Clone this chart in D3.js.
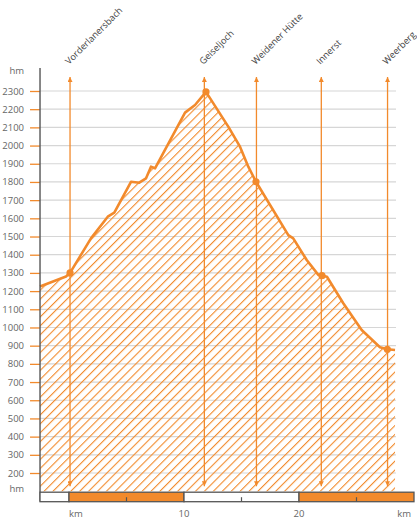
<!DOCTYPE html>
<html>
<head>
  <meta charset="UTF-8">
  <title>Höhenprofil</title>
  <style>
    body { margin: 0; background: #fff; }
    text { font-family: "Open Sans", sans-serif; }
  </style>
</head>
<body>
<svg id="chart"></svg>
<script src="https://d3js.org/d3.v7.min.js"></script>
<script>

let width = 417, height = 520;

// profile (km, metres)
var profileKm = [-2.52, -0.26, 0.09, 1.91, 3.37, 3.94, 5.39, 6.11, 6.70, 7.13, 7.48, 10.09, 10.96, 11.91,
                 13.85, 14.87, 15.59, 16.26, 19.07, 19.5, 20.67, 21.68, 22.0, 22.43, 23.85, 25.45, 27.04, 27.68, 28.35]
var profileElev = [1225, 1280, 1300, 1490, 1609, 1631, 1801, 1796, 1820, 1884, 1875, 2181, 2223, 2295,
                   2104, 1994, 1884, 1801, 1508, 1490, 1371, 1289, 1285, 1279, 1133, 986, 891, 880, 876]

// waypoints
var wpNames = ["Vorderlanersbach", "Geiseljoch", "Weidener Hütte", "Innerst", "Weerberg"]
var wpKm = [0.09, 11.77, 16.3, 21.94, 27.7]
var dotKm = [0.09, 11.91, 16.26, 22.0, 27.68]
var dotElev = [1300, 2295, 1801, 1285, 880]

// axes
var elevTicks = d3.range(200, 2400, 100)
var kmTicks = [0, 10, 20, 30]
var kmLabels = ["km", "10", "20", "km"]
var kmSegments = [[-2.52, 0], [0, 10], [10, 20], [20, 30]]
var kmMinor = [5, 15, 25]

var orange = "#f28a2c", grey = "#555"

let svg = d3.select("#chart").attr("width", width).attr("height", height)

let x = d3.scaleLinear().domain([0, 30]).range([69, 414])
let y = d3.scaleLinear().domain([100, 2400]).range([491.2, 72.8])

let xLeft = x(-2.52), xRight = 396, yBottom = y(100)

// hatch pattern
let defs = svg.append("defs")
defs.append("pattern")
    .attr("id", "hatch")
    .attr("patternUnits", "userSpaceOnUse")
    .attr("width", 6.3).attr("height", 6.3)
    .attr("patternTransform", "rotate(45)")
  .append("line")
    .attr("x1", 0).attr("y1", 0).attr("x2", 0).attr("y2", 6.3)
    .attr("stroke", orange).attr("stroke-width", 2.2)

defs.append("marker")
    .attr("id", "arrowUp")
    .attr("viewBox", "0 0 10 10")
    .attr("refX", 5).attr("refY", 0)
    .attr("markerUnits", "userSpaceOnUse")
    .attr("markerWidth", 5).attr("markerHeight", 6)
    .attr("orient", "0")
  .append("path").attr("d", "M0,10 L5,0 L10,10 Z").attr("fill", orange)
defs.append("marker")
    .attr("id", "arrowDown")
    .attr("viewBox", "0 0 10 10")
    .attr("refX", 5).attr("refY", 10)
    .attr("markerUnits", "userSpaceOnUse")
    .attr("markerWidth", 5).attr("markerHeight", 6)
    .attr("orient", "0")
  .append("path").attr("d", "M0,0 L5,10 L10,0 Z").attr("fill", orange)

// gridlines
svg.append("g").selectAll("line")
    .data(elevTicks)
    .enter().append("line")
    .attr("x1", xLeft).attr("x2", xRight)
    .attr("y1", d => y(d)).attr("y2", d => y(d))
    .attr("stroke", "#d6d6d6").attr("stroke-width", 1.2)

// y axis
let yAxis = svg.append("g")
    .attr("transform", "translate(" + xLeft + ",0)")
    .call(d3.axisLeft(y).tickValues(elevTicks).tickFormat(d3.format("d")).tickSize(10).tickPadding(6))
yAxis.select(".domain").remove()
yAxis.selectAll(".tick line").attr("stroke", orange).attr("stroke-width", 1.3)
yAxis.selectAll(".tick text")
    .attr("fill", "#666").style("font-size", "9.5px")
    .style("font-family", "'Open Sans', sans-serif")

svg.selectAll("text.hm")
    .data([100, 2400])
    .enter().append("text")
    .attr("class", "hm")
    .attr("x", xLeft - 16).attr("y", d => y(d) - 2)
    .attr("text-anchor", "end").attr("dy", "0.32em")
    .attr("fill", "#666").style("font-size", "9.5px")
    .text("hm")

// filled profile
let points = profileKm.map((k, i) => [k, profileElev[i]])

let area = d3.area()
    .x(d => x(d[0]))
    .y0(yBottom)
    .y1(d => y(d[1]))
svg.append("path")
    .datum(points)
    .attr("d", area)
    .attr("fill", "url(#hatch)")

// waypoint arrows
svg.append("g").selectAll("line")
    .data(wpKm)
    .enter().append("line")
    .attr("x1", d => x(d)).attr("x2", d => x(d))
    .attr("y1", 77).attr("y2", yBottom - 5)
    .attr("stroke", orange).attr("stroke-width", 1.3)
    .attr("marker-start", "url(#arrowUp)")
    .attr("marker-end", "url(#arrowDown)")

// profile line
let line = d3.line()
    .x(d => x(d[0]))
    .y(d => y(d[1]))
svg.append("path")
    .datum(points)
    .attr("d", line)
    .attr("fill", "none")
    .attr("stroke", orange)
    .attr("stroke-width", 2.6)
    .attr("stroke-linejoin", "round")

svg.append("g").selectAll("circle")
    .data(dotKm)
    .enter().append("circle")
    .attr("cx", d => x(d))
    .attr("cy", (d, i) => y(dotElev[i]))
    .attr("r", 3.6)
    .attr("fill", orange)

// waypoint labels
svg.append("g").selectAll("text")
    .data(wpNames)
    .enter().append("text")
    .attr("transform", (d, i) => "translate(" + (x(wpKm[i]) - 1) + ",65) rotate(-45)")
    .attr("fill", "#444").style("font-size", "9.2px")
    .text(d => d)

// y axis line
svg.append("line")
    .attr("x1", xLeft).attr("x2", xLeft)
    .attr("y1", 68).attr("y2", 501.5)
    .attr("stroke", grey).attr("stroke-width", 1.4)

// km bar
let bar = svg.append("g")
bar.selectAll("rect")
    .data(kmSegments)
    .enter().append("rect")
    .attr("x", d => x(d[0]))
    .attr("width", d => x(d[1]) - x(d[0]))
    .attr("y", yBottom + 1).attr("height", 9.5)
    .attr("fill", (d, i) => i % 2 ? orange : "#fff")
    .attr("stroke", grey).attr("stroke-width", 1.3)
bar.selectAll("line")
    .data(kmMinor)
    .enter().append("line")
    .attr("x1", d => x(d)).attr("x2", d => x(d))
    .attr("y1", yBottom + 6).attr("y2", yBottom + 10.5)
    .attr("stroke", grey).attr("stroke-width", 1.2)

svg.append("g").selectAll("text")
    .data(kmTicks)
    .enter().append("text")
    .attr("x", (d, i) => i == kmTicks.length - 1 ? x(d) - 3 : x(d))
    .attr("y", 517)
    .attr("text-anchor", (d, i) => i == 0 ? "start" : (i == kmTicks.length - 1 ? "end" : "middle"))
    .attr("fill", "#666").style("font-size", "9.5px")
    .text((d, i) => kmLabels[i])

</script>
</body>
</html>
